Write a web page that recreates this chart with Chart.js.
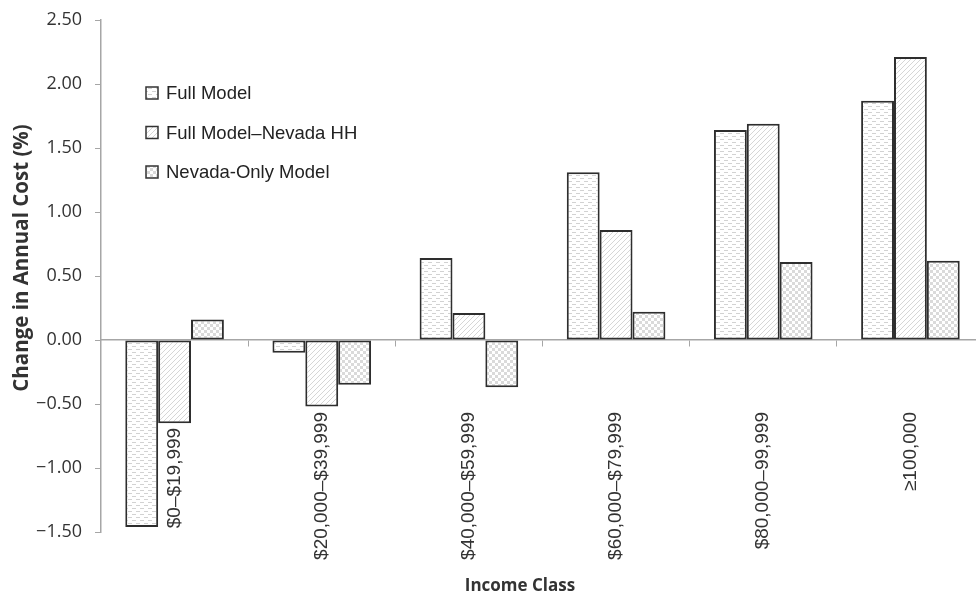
<!DOCTYPE html>
<html>
<head>
<meta charset="utf-8">
<script src="https://cdn.jsdelivr.net/npm/chart.js@4/dist/chart.umd.min.js"></script>
<style>
  html, body { margin: 0; padding: 0; background: #fff; overflow: hidden; }
  canvas { display: block; }
</style>
</head>
<body>
<canvas id="grafico" width="986" height="596"></canvas>
<script>
// Datos del gráfico
const categorias = ["$0–$19,999", "$20,000–$39,999", "$40,000–$59,999", "$60,000–$79,999", "$80,000–99,999", "≥100,000"];
const series = ["Full Model", "Full Model–Nevada HH", "Nevada-Only Model"];
const fullModel = [-1.46, -0.10, 0.64, 1.31, 1.64, 1.87];
const fullModelNevada = [-0.65, -0.52, 0.21, 0.86, 1.69, 2.21];
const nevadaOnly = [0.16, -0.35, -0.37, 0.22, 0.61, 0.62];
const tituloX = "Income Class";
const tituloY = "Change in Annual Cost (%)";

// Patrones de relleno
function patron(w, h, pintar) {
  const c = document.createElement("canvas");
  c.width = w; c.height = h;
  const g = c.getContext("2d");
  g.fillStyle = "#ffffff";
  g.fillRect(0, 0, w, h);
  pintar(g);
  return g.createPattern(c, "repeat");
}
const ctx = document.getElementById("grafico").getContext("2d");

const guiones = patron(8, 6, g => {
  g.fillStyle = "#d2d2d2";
  g.fillRect(0, 1, 4, 1);
  g.fillRect(4, 4, 4, 1);
});
const diagonal = patron(5, 5, g => {
  g.strokeStyle = "#d6d6d6";
  g.lineWidth = 1;
  g.beginPath();
  g.moveTo(0, 5); g.lineTo(5, 0);
  g.moveTo(-1, 1); g.lineTo(1, -1);
  g.moveTo(4, 6); g.lineTo(6, 4);
  g.stroke();
});
const cuadros = patron(6, 6, g => {
  g.fillStyle = "#dadada";
  g.fillRect(0, 0, 3, 3);
  g.fillRect(3, 3, 3, 3);
});

// Leyenda dentro del área del gráfico y títulos de los ejes
const extras = {
  id: "extras",
  afterDraw(chart) {
    const c = chart.ctx;
    c.save();
    c.font = "18.5px 'Liberation Sans', Arial, sans-serif";
    c.textBaseline = "middle";
    chart.data.datasets.forEach((ds, i) => {
      const y = 93 + i * 39.5;
      c.fillStyle = ds.backgroundColor;
      c.fillRect(146, y - 6, 12, 12);
      c.strokeStyle = "#333";
      c.lineWidth = 1.5;
      c.strokeRect(146, y - 6, 12, 12);
      c.fillStyle = "#222";
      c.fillText(ds.label, 166, y + 1);
    });

    c.fillStyle = "#333";
    c.textAlign = "center";
    c.font = "bold 17px 'Open Sans', sans-serif";
    c.fillText(tituloX, 520, 586);

    c.translate(22, 258);
    c.rotate(-Math.PI / 2);
    c.font = "bold 20.5px 'Open Sans', sans-serif";
    c.fillText(tituloY, 0, 0);
    c.restore();
  }
};

const estilo = {
  borderColor: "#2e2e2e",
  borderWidth: 2,
  borderSkipped: false,
  barPercentage: 1,
  categoryPercentage: 0.67
};

const chart = new Chart(ctx, {
  type: "bar",
  data: {
    labels: categorias,
    datasets: [
      Object.assign({ label: series[0], data: fullModel, backgroundColor: guiones }, estilo),
      Object.assign({ label: series[1], data: fullModelNevada, backgroundColor: diagonal }, estilo),
      Object.assign({ label: series[2], data: nevadaOnly, backgroundColor: cuadros }, estilo)
    ]
  },
  options: {
    responsive: false,
    animation: false,
    layout: { padding: { top: 20, left: 2, right: 2, bottom: 64 } },
    plugins: {
      legend: { display: false },
      tooltip: { enabled: false },
      title: { display: false }
    },
    scales: {
      x: {
        position: { y: 0 },
        afterFit: scale => { scale.paddingLeft = 0; scale.paddingRight = 0; },
        grid: { drawOnChartArea: false, drawTicks: true, tickLength: 6, color: "#a6a6a6", offset: true },
        border: { color: "#a6a6a6", width: 1.5 },
        ticks: {
          autoSkip: false,
          minRotation: 90,
          maxRotation: 90,
          padding: 66,
          color: "#333",
          font: { family: "'Liberation Sans', Arial, sans-serif", size: 19 },
          // la primera etiqueta aparece algo más abajo en el original
          callback: (v, i) => i === 0 ? categorias[i] + "   " : categorias[i]
        }
      },
      y: {
        min: -1.5,
        max: 2.5,
        afterFit: scale => { scale.width = 99; scale.paddingTop = 0; scale.paddingBottom = 0; },
        grid: { drawOnChartArea: false, drawTicks: true, tickLength: 6, color: "#a6a6a6" },
        border: { color: "#a6a6a6", width: 1.5 },
        ticks: {
          stepSize: 0.5,
          padding: 13,
          color: "#333",
          font: { family: "'Open Sans', sans-serif", size: 18 },
          callback: v => v.toFixed(2).replace("-", "−")
        }
      }
    }
  },
  plugins: [extras]
});
</script>
</body>
</html>
